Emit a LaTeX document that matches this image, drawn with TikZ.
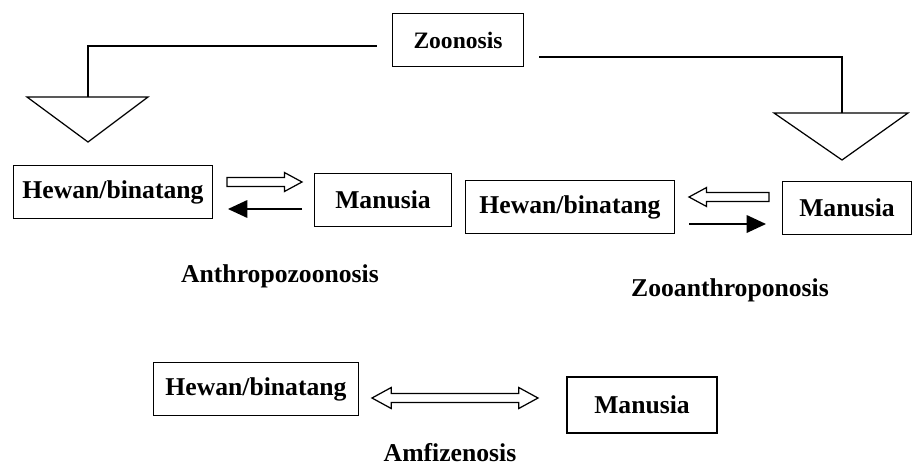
\documentclass[tikz,border=0pt]{standalone}
\usepackage{fontspec}
\setmainfont{Liberation Serif}
\usetikzlibrary{arrows.meta,calc,positioning}

\tikzset{
  box/.style={draw,line width=0.8pt,minimum height=1.06cm,inner sep=2pt,font=\bfseries\fontsize{14.6}{17}\selectfont},
  lbl/.style={font=\bfseries\fontsize{14.6}{17}\selectfont},
  wire/.style={line width=0.7pt},
  solidarrow/.style={line width=0.9pt,-{Triangle[length=11pt,width=10pt]}},
  hollow/.style={line width=0.7pt,fill=white,line join=miter}
}

% hollow arrow, shaft from #1 to tip at #2
\newcommand{\openarrow}[2]{%
  \coordinate (oh) at ($(#2)!10pt!(#1)$);
  \draw[hollow] ($(#1)!2.5pt!90:(#2)$) -- ($(oh)!2.5pt!90:(#2)$) -- ($(oh)!5.4pt!90:(#2)$)
    -- (#2) -- ($(oh)!5.4pt!-90:(#2)$) -- ($(oh)!2.5pt!-90:(#2)$) -- ($(#1)!2.5pt!-90:(#2)$) -- cycle;}
% hollow arrow with heads at both ends
\newcommand{\openbiarrow}[2]{%
  \coordinate (oh) at ($(#2)!11pt!(#1)$);
  \coordinate (ot) at ($(#1)!11pt!(#2)$);
  \draw[hollow] (#1) -- ($(ot)!6pt!90:(#2)$) -- ($(ot)!2.6pt!90:(#2)$) -- ($(oh)!2.6pt!90:(#2)$)
    -- ($(oh)!6pt!90:(#2)$) -- (#2) -- ($(oh)!6pt!-90:(#2)$) -- ($(oh)!2.6pt!-90:(#2)$)
    -- ($(ot)!2.6pt!-90:(#2)$) -- ($(ot)!6pt!-90:(#2)$) -- cycle;}

\begin{document}
\begin{tikzpicture}[x=0.02cm,y=-0.02cm]
\useasboundingbox (0,0) rectangle (916,467);

% top
\node[box,minimum width=2.62cm,font=\bfseries\fontsize{13.4}{16}\selectfont] (zoo) at (458,40) {Zoonosis};

% funnels
\coordinate (tl) at (88,97);
\coordinate (tr) at (842,113);
\draw[wire] (27,97) -- (148,97) -- (88,142) -- cycle;
\draw[wire] (774,113) -- (908,113) -- (842,160) -- cycle;
\draw[wire] ($(zoo.west)+(-15,6)$) -| (tl);
\draw[wire] ($(zoo.east)+(15,17)$) -| (tr);

% second row
\node[box,minimum width=3.98cm] (hw1) at (113,192) {Hewan/binatang};
\node[box,minimum width=2.74cm] (mn1) at (383,200) {Manusia};
\node[box,minimum width=4.18cm] (hw2) at (570,207) {Hewan/binatang};
\node[box,minimum width=2.58cm] (mn2) at (847,208) {Manusia};

\coordinate (a1) at (227,182); \coordinate (b1) at (302,182);
\coordinate (a2) at (302,209); \coordinate (b2) at (228,209);
\coordinate (a3) at (769,197); \coordinate (b3) at (689,197);
\coordinate (a4) at (689,224); \coordinate (b4) at (766,224);
\openarrow{a1}{b1}
\draw[solidarrow] (a2) -- (b2);
\openarrow{a3}{b3}
\draw[solidarrow] (a4) -- (b4);

\node[lbl] (anthro) at (280,276) {Anthropozoonosis};
\node[lbl] (zooan) at (730,290) {Zooanthroponosis};

% bottom row
\node[box,minimum width=4.1cm] (hw3) at (256,389) {Hewan/binatang};
\node[box,minimum width=3.0cm,minimum height=1.12cm] (mn3) at (642,405) {Manusia};
\coordinate (a5) at (372,398); \coordinate (b5) at (538,398);
\openbiarrow{a5}{b5}
\node[lbl] (amfi) at (450,453) {Amfizenosis};
\end{tikzpicture}
\end{document}
